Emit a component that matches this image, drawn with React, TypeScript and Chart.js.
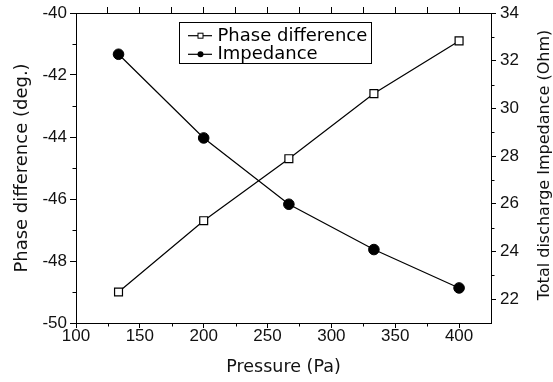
import React, { useEffect, useRef } from "react";
import { Chart, registerables } from "chart.js";

Chart.register(...registerables);

// ---- data ----
const pressure = [133.3, 200, 266.7, 333.3, 400];
const phaseDiff = [-49.0, -46.7, -44.7, -42.6, -40.9];
const impedance = [32.27, 28.76, 25.98, 24.08, 22.47];

const seriesNames = ["Phase difference", "Impedance"];

const xMajorTicks = [100, 150, 200, 250, 300, 350, 400];
const xMinorTicks = [125, 175, 225, 275, 325, 375];
const yLeftMajorTicks = [-50, -48, -46, -44, -42, -40];
const yLeftMinorTicks = [-49, -47, -45, -43, -41];
const yRightMajorTicks = [22, 24, 26, 28, 30, 32, 34];
const yRightMinorTicks = [23, 25, 27, 29, 31, 33];

const xTitle = "Pressure (Pa)";
const yLeftTitle = "Phase difference (deg.)";
const yRightTitle = "Total discharge Impedance (Ohm)";

const W = 553;
const H = 382;
const TICK_FONT = { family: "'Liberation Sans', Arial, sans-serif", size: 17, lineHeight: 1 };
const TITLE_FAMILY = "'DejaVu Sans', sans-serif";

const minorTicksAndLegend = {
  id: "minorTicksAndLegend",
  afterDraw(chart: any) {
    const ctx = chart.ctx as CanvasRenderingContext2D;
    const { x, y, y2 } = chart.scales;
    const ca = chart.chartArea;
    ctx.save();
    ctx.strokeStyle = "#000";
    ctx.lineWidth = 1;
    ctx.beginPath();
    const minorLen = 3.5;
    xMinorTicks.forEach((v) => {
      const px = Math.round(x.getPixelForValue(v)) + 0.5;
      ctx.moveTo(px, ca.bottom);
      ctx.lineTo(px, ca.bottom + minorLen);
    });
    yLeftMinorTicks.forEach((v) => {
      const py = Math.round(y.getPixelForValue(v)) + 0.5;
      ctx.moveTo(ca.left, py);
      ctx.lineTo(ca.left - minorLen, py);
    });
    yRightMinorTicks.forEach((v) => {
      const py = Math.round(y2.getPixelForValue(v)) + 0.5;
      ctx.moveTo(ca.right, py);
      ctx.lineTo(ca.right + minorLen, py);
    });
    ctx.stroke();

    // right axis title, reading bottom to top
    ctx.save();
    ctx.translate(545, (ca.top + ca.bottom) / 2 - 3);
    ctx.rotate(-Math.PI / 2);
    ctx.font = `16px ${TITLE_FAMILY}`;
    ctx.fillStyle = "#111";
    ctx.textAlign = "center";
    ctx.textBaseline = "middle";
    ctx.fillText(yRightTitle, 0, 0);
    ctx.restore();

    // legend
    const bx = 179.5, by = 22.5, bw = 192, bh = 41;
    ctx.fillStyle = "#fff";
    ctx.fillRect(bx, by, bw, bh);
    ctx.strokeStyle = "#000";
    ctx.lineWidth = 1;
    ctx.strokeRect(bx, by, bw, bh);
    const rows = [35.7, 54.3];
    ctx.font = `18px ${TITLE_FAMILY}`;
    ctx.textBaseline = "middle";
    ctx.textAlign = "left";
    rows.forEach((ry, i) => {
      ctx.beginPath();
      ctx.lineWidth = 1.2;
      ctx.moveTo(188, ry);
      ctx.lineTo(212, ry);
      ctx.stroke();
      ctx.lineWidth = 1;
      if (i === 0) {
        ctx.fillStyle = "#fff";
        ctx.fillRect(198, ry - 2.5, 5, 5);
        ctx.strokeRect(198, ry - 2.5, 5, 5);
      } else {
        ctx.fillStyle = "#000";
        ctx.beginPath();
        ctx.arc(200.5, ry, 3, 0, Math.PI * 2);
        ctx.fill();
      }
      ctx.fillStyle = "#000";
      ctx.fillText(seriesNames[i], 217.5, ry + 0.5);
    });
    ctx.restore();
  },
};

export default function App() {
  const ref = useRef<HTMLCanvasElement | null>(null);

  useEffect(() => {
    if (!ref.current) return;
    const toPts = (ys: number[]) => pressure.map((p, i) => ({ x: p, y: ys[i] }));
    const chart = new Chart(ref.current, {
      type: "line",
      data: {
        datasets: [
          {
            label: seriesNames[0],
            data: toPts(phaseDiff),
            yAxisID: "y",
            borderColor: "#000",
            borderWidth: 1.2,
            pointStyle: "rect",
            pointRadius: 5.6,
            pointBorderWidth: 1.2,
            pointBackgroundColor: "#fff",
            pointBorderColor: "#000",
            fill: false,
            tension: 0,
          },
          {
            label: seriesNames[1],
            data: toPts(impedance),
            yAxisID: "y2",
            borderColor: "#000",
            borderWidth: 1.2,
            pointStyle: "circle",
            pointRadius: 5.3,
            pointBorderWidth: 1,
            pointBackgroundColor: "#000",
            pointBorderColor: "#000",
            fill: false,
            tension: 0,
          },
        ],
      },
      options: {
        responsive: false,
        animation: false,
        events: [],
        layout: { padding: 0 },
        plugins: {
          legend: { display: false },
          tooltip: { enabled: false },
          title: { display: false },
        },
        scales: {
          x: {
            type: "linear",
            position: "bottom",
            min: 100,
            max: 425,
            afterBuildTicks: (s: any) => {
              s.ticks = xMajorTicks.map((v) => ({ value: v }));
            },
            afterFit: (s: any) => {
              s.height = H - 323;
            },
            grid: { drawOnChartArea: false, tickLength: 5, color: "#000", tickWidth: 1 },
            border: { display: true, color: "#000", width: 1 },
            ticks: { color: "#111", font: TICK_FONT, padding: 0, maxRotation: 0, autoSkip: false },
            title: {
              display: true,
              text: xTitle,
              color: "#111",
              font: { family: TITLE_FAMILY, size: 17.5 },
              padding: { top: 0, bottom: 4 },
            },
          },
          x2: {
            type: "linear",
            position: "top",
            min: 100,
            max: 425,
            afterBuildTicks: (s: any) => {
              s.ticks = [...xMinorTicks, ...xMajorTicks]
                .filter((v) => v > 100)
                .sort((a, b) => a - b)
                .map((v) => ({ value: v }));
            },
            afterFit: (s: any) => {
              s.height = 13;
            },
            grid: { drawOnChartArea: false, tickLength: 6, color: "#000" },
            border: { display: true, color: "#000", width: 1 },
            ticks: { display: false },
          },
          y: {
            type: "linear",
            position: "left",
            min: -50,
            max: -40,
            afterBuildTicks: (s: any) => {
              s.ticks = yLeftMajorTicks.map((v) => ({ value: v }));
            },
            afterFit: (s: any) => {
              s.width = 76;
            },
            grid: { drawOnChartArea: false, tickLength: 6, color: "#000" },
            border: { display: true, color: "#000", width: 1 },
            ticks: { color: "#111", font: TICK_FONT, padding: 3 },
            title: {
              display: true,
              text: yLeftTitle,
              color: "#111",
              font: { family: TITLE_FAMILY, size: 18 },
              padding: { top: 12, bottom: 0 },
            },
          },
          y2: {
            type: "linear",
            position: "right",
            min: 21,
            max: 34,
            afterBuildTicks: (s: any) => {
              s.ticks = yRightMajorTicks.map((v) => ({ value: v }));
            },
            afterFit: (s: any) => {
              s.width = W - 491;
            },
            grid: { drawOnChartArea: false, tickLength: 5, color: "#000" },
            border: { display: true, color: "#000", width: 1 },
            ticks: { color: "#111", font: TICK_FONT, padding: 4 },
            title: { display: false },
          },
        },
      },
      plugins: [minorTicksAndLegend],
    } as any);
    return () => chart.destroy();
  }, []);

  return (
    <div style={{ position: "absolute", left: 0, top: 0, width: W, height: H, background: "#fff" }}>
      <canvas ref={ref} width={W} height={H} style={{ display: "block", width: W, height: H }} />
    </div>
  );
}
